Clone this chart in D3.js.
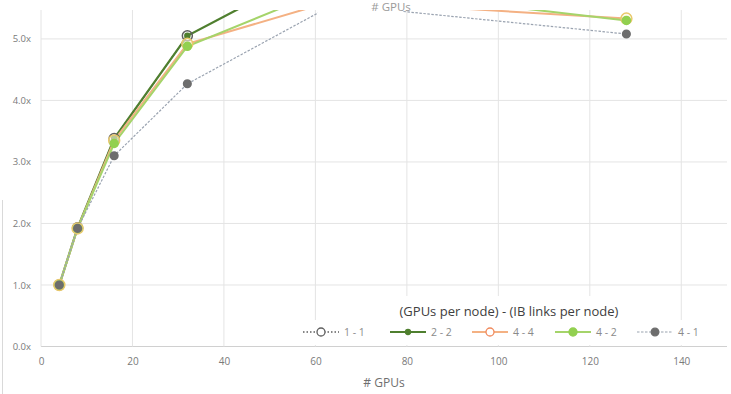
<!DOCTYPE html>
<html>
<head>
<meta charset="utf-8">
<script src="https://cdn.jsdelivr.net/npm/d3@7"></script>
<style>
  body { margin: 0; background: #fff; }
  svg { display: block; font-family: "Open Sans", "Liberation Sans", sans-serif; }
</style>
</head>
<body>
<div id="chart"></div>
<script>
// # GPUs on x, speedup on y
const gpus = [4, 8, 16, 32, 64, 128]
const s11 = [1.0, 1.93, 3.38, 5.05]               // 1 GPU/node, up to 32 nodes
const s22 = [1.0, 1.93, 3.38, 5.05, 6.3]          // 2 GPUs/node
const s44 = [1.0, 1.92, 3.35, 4.92, 5.62, 5.33]
const s42 = [1.0, 1.92, 3.30, 4.88, 5.85, 5.30]
const s41 = [1.0, 1.92, 3.10, 4.27, 5.56, 5.08]
const xTicks = [0, 20, 40, 60, 80, 100, 120, 140]
const yTicks = [0, 1, 2, 3, 4, 5]
const seriesNames = ['1 - 1', '2 - 2', '4 - 4', '4 - 2', '4 - 1']

const W = 731, H = 394
const svg = d3.select('#chart').append('svg')
  .attr('width', W)
  .attr('height', H)

const x = d3.scaleLinear().domain([0, 150]).range([41, 727])
const y = d3.scaleLinear().domain([0, 5.47]).range([346.5, 10])

// left border remnant
svg.append('line')
  .attr('x1', 2.5).attr('x2', 2.5).attr('y1', 200).attr('y2', H)
  .attr('stroke', '#d9d9d9')

// gridlines
svg.append('g')
  .selectAll('line')
  .data(yTicks)
  .enter()
  .append('line')
  .attr('x1', x(0)).attr('x2', 727)
  .attr('y1', d => y(d)).attr('y2', d => y(d))
  .attr('stroke', d => d === 0 ? '#d0d0d0' : '#e4e4e4')
  .attr('stroke-width', 1)

svg.append('g')
  .selectAll('line')
  .data(xTicks)
  .enter()
  .append('line')
  .attr('x1', d => x(d)).attr('x2', d => x(d))
  .attr('y1', 10).attr('y2', y(0))
  .attr('stroke', '#e4e4e4')

// y axis labels
const yAxis = d3.axisLeft(y).tickValues(yTicks).tickSize(0).tickPadding(0)
  .tickFormat(d => d3.format('.1f')(d) + 'x')
const gy = svg.append('g').attr('transform', 'translate(31,0)').call(yAxis)
gy.select('.domain').remove()
gy.selectAll('text').attr('fill', '#7a7a7a').style('font-size', '9.5px')
  .style('font-family', '"Open Sans", sans-serif')

// x axis labels
const xAxis = d3.axisBottom(x).tickValues(xTicks).tickSize(0).tickPadding(0)
const gx = svg.append('g').attr('transform', 'translate(0,358)').call(xAxis)
gx.select('.domain').remove()
gx.selectAll('text').attr('fill', '#7a7a7a').style('font-size', '10px')
  .style('font-family', '"Open Sans", sans-serif')

svg.append('text')
  .attr('x', 384).attr('y', 387)
  .attr('text-anchor', 'middle')
  .attr('fill', '#6f6f6f')
  .style('font-size', '12px')
  .text('# GPUs')

// series
const clip = svg.append('clipPath').attr('id', 'plotclip')
clip.append('rect').attr('x', 0).attr('y', 10).attr('width', 731).attr('height', 345)

const series = [
  { name: seriesNames[0], vals: s11, color: '#5f5f5f', width: 1.3, dash: '1.5,2', marker: 'open', r: 5, mfill: 'none', mstroke: '#5f5f5f' },
  { name: seriesNames[1], vals: s22, color: '#4f7f2f', width: 2.25, dash: null, marker: 'dot', r: 2.5, mfill: '#4f7f2f', mstroke: '#4f7f2f' },
  { name: seriesNames[2], vals: s44, color: '#f4b183', width: 2, dash: null, marker: 'open', r: 5.5, mfill: '#fff8e0', mstroke: '#e8c86a' },
  { name: seriesNames[3], vals: s42, color: '#a5d46a', width: 2, dash: null, marker: 'dot', r: 4, mfill: '#92d050', mstroke: '#92d050' },
  { name: seriesNames[4], vals: s41, color: '#9aa3b0', width: 1.2, dash: '2.5,1.5', marker: 'dot', r: 3.8, mfill: '#6d6d6d', mstroke: '#6d6d6d' }
]

const line = d3.line()
  .x(d => x(d[0]))
  .y(d => y(d[1]))

const plot = svg.append('g').attr('clip-path', 'url(#plotclip)')
series.forEach(s => {
  const pts = s.vals.map((v, i) => [gpus[i], v])
  plot.append('path')
    .datum(pts)
    .attr('d', line)
    .attr('fill', 'none')
    .attr('stroke', s.color)
    .attr('stroke-width', s.width)
    .attr('stroke-dasharray', s.dash)
})
series.forEach(s => {
  const pts = s.vals.map((v, i) => [gpus[i], v])
  plot.selectAll(null)
    .data(pts)
    .enter()
    .append('circle')
    .attr('cx', d => x(d[0]))
    .attr('cy', d => y(d[1]))
    .attr('r', s.r)
    .attr('fill', s.mfill)
    .attr('fill-opacity', s.marker === 'open' ? 0.6 : 1)
    .attr('stroke', s.mstroke)
    .attr('stroke-width', 1.5)
})

// cropped title from the chart above
svg.append('rect').attr('x', 318).attr('y', 0).attr('width', 84).attr('height', 14).attr('fill', '#fff')
svg.append('text')
  .attr('x', 391).attr('y', 11)
  .attr('text-anchor', 'middle')
  .attr('fill', '#9a9a9a')
  .style('font-size', '11.5px')
  .text('# GPUs')

// legend
svg.append('rect').attr('x', 318).attr('y', 296).attr('width', 360).attr('height', 24).attr('fill', '#fff')
svg.append('rect').attr('x', 298).attr('y', 320).attr('width', 400).attr('height', 25).attr('fill', '#fff')
svg.append('text')
  .attr('x', 509).attr('y', 316)
  .attr('text-anchor', 'middle')
  .attr('fill', '#404040')
  .style('font-size', '13px')
  .text('(GPUs per node) - (IB links per node)')

const legX = [303, 390, 472, 555, 637]
const leg = svg.append('g')
  .selectAll('g')
  .data(series)
  .enter()
  .append('g')
  .attr('transform', (d, i) => `translate(${legX[i]},332)`)
leg.append('line')
  .attr('x1', 0).attr('x2', 36)
  .attr('stroke', d => d.color)
  .attr('stroke-width', d => Math.min(d.width, 1.8))
  .attr('stroke-dasharray', d => d.dash)
leg.append('circle')
  .attr('cx', 18)
  .attr('r', d => Math.min(d.r, 4))
  .attr('fill', d => d.marker === 'open' ? '#fff' : d.mfill)
  .attr('stroke', d => d.marker === 'open' ? d.color === '#f4b183' ? '#f08a5d' : d.mstroke : d.mstroke)
  .attr('stroke-width', 1.3)
leg.append('text')
  .attr('x', 41).attr('y', 4)
  .attr('fill', '#8a8a8a')
  .style('font-size', '10.5px')
  .text(d => d.name)
</script>
</body>
</html>
